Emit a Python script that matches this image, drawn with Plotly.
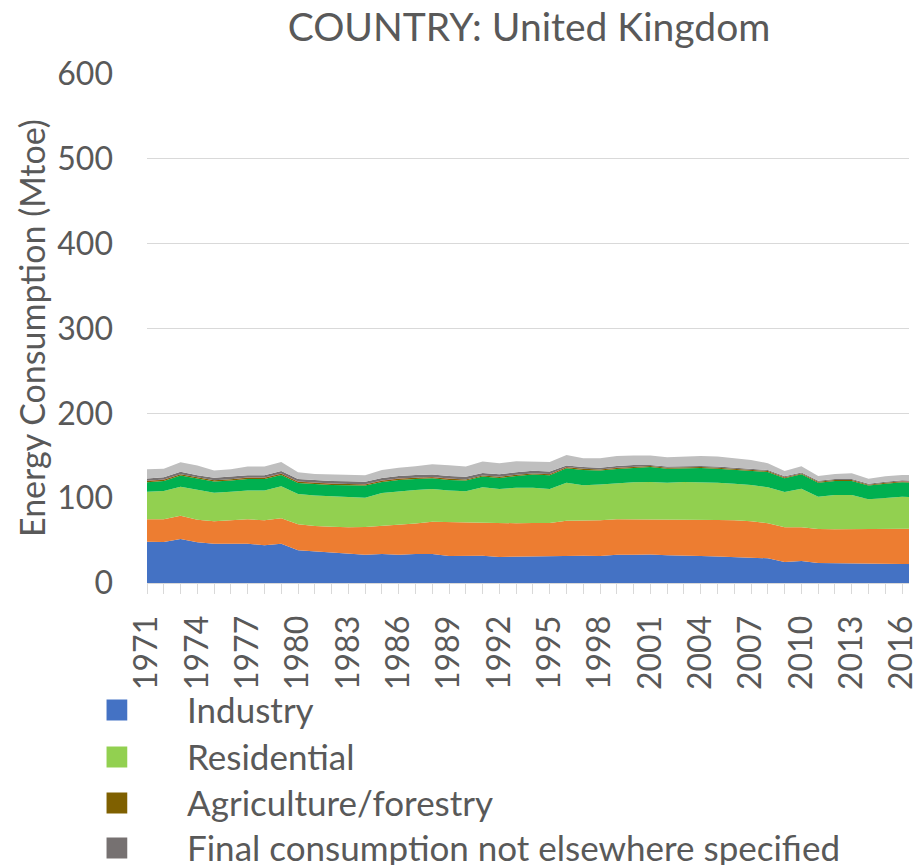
import plotly.graph_objects as go

years = list(range(1971, 2018))

industry = [48.7, 48.3, 51.9, 48.0, 46.4, 46.4, 46.4, 44.4, 46.4, 38.5,
            37.3, 36.2, 34.6, 33.4, 34.2, 33.4, 34.2, 34.2, 31.8, 31.8,
            32.2, 30.7, 31.1, 31.1, 31.4, 32.6, 32.2, 31.8, 33.4, 33.4,
            33.6, 32.6, 32.6, 31.8, 31.1, 30.7, 30.3, 29.1, 24.8, 25.9,
            23.6, 23.2, 23.2, 23.2, 22.8, 22.4, 22.3]
transport = [26.4, 26.8, 27.5, 26.7, 26.3, 27.5, 28.7, 29.5, 29.9, 30.7,
             29.9, 30.2, 31.0, 32.6, 33.0, 34.6, 35.8, 38.1, 40.1, 39.3,
             38.6, 39.3, 39.3, 39.7, 39.4, 40.9, 41.3, 42.1, 41.7, 41.7,
             41.5, 42.5, 42.5, 42.5, 43.2, 43.2, 42.4, 41.3, 40.8, 39.7,
             40.1, 40.1, 40.1, 40.1, 40.9, 41.7, 41.8]
residential = [32.6, 33.4, 34.2, 35.0, 33.8, 33.8, 33.8, 35.0, 37.7, 35.8,
               35.8, 35.8, 35.8, 34.6, 38.9, 40.1, 39.7, 38.5, 37.0, 37.0,
               42.0, 40.8, 42.0, 41.6, 40.0, 44.8, 41.7, 42.1, 42.4, 43.6,
               44.0, 43.2, 44.0, 44.8, 44.0, 43.2, 42.9, 42.4, 41.7, 45.6,
               38.1, 40.5, 40.5, 35.4, 36.9, 37.7, 37.0]
commercial = [11.0, 11.8, 13.0, 12.9, 13.0, 13.0, 13.7, 13.7, 13.4, 12.9,
              13.4, 13.4, 13.8, 14.2, 13.0, 13.4, 12.9, 12.6, 12.6, 12.6,
              12.6, 13.0, 13.8, 15.4, 16.2, 16.9, 18.1, 16.5, 16.9, 16.9,
              17.7, 16.5, 16.1, 16.5, 16.5, 16.5, 16.5, 18.1, 16.1, 16.9,
              16.5, 16.5, 16.5, 16.1, 16.5, 16.9, 16.9]
agriculture = [1.5] * 9 + [1.4] * 10 + [1.3] * 11 + [1.1] * 9 + [1.0] * 8
fishing = [0.2] * 19 + [0.1] * 28
not_elsewhere = [2.8] * 9 + [3.0] * 16 + [2.0] * 5 + [1.2] * 17
non_energy = [10.8, 10.0, 11.2, 11.3, 8.5, 8.8, 10.1, 10.1, 10.8, 8.0,
              7.5, 7.6, 7.2, 7.6, 9.6, 9.9, 10.4, 11.9, 12.7, 12.1,
              13.3, 12.9, 12.9, 10.9, 11.3, 12.3, 10.3, 11.1, 12.0, 11.2,
              11.0, 11.0, 11.8, 11.8, 11.8, 11.4, 10.6, 7.8, 6.3, 7.2,
              5.6, 5.9, 6.7, 5.9, 6.4, 6.4, 6.8]

series_names = ["Industry", "Transport", "Residential",
                "Commercial and public services", "Agriculture/forestry",
                "Fishing", "Final consumption not elsewhere specified",
                "Non-energy use"]
series_values = [industry, transport, residential, commercial, agriculture,
                 fishing, not_elsewhere, non_energy]
series_colors = ["#4472C4", "#ED7D31", "#92D050", "#00B050", "#7F6000",
                 "#C00000", "#767171", "#BFBFBF"]

tick_years = years[0:46:3]
tick_text = [str(y) for y in tick_years]

FONT = "Lato"
TEXT = "#595959"
GRID = "#D9D9D9"

fig = go.Figure()
for name, vals, col in zip(series_names, series_values, series_colors):
    fig.add_trace(go.Scatter(
        x=years, y=vals, name=name, mode="lines", stackgroup="one",
        line=dict(width=0, color=col), fillcolor=col, showlegend=False,
    ))

# plot area geometry (pixels)
W, H = 919, 865
L, R, T, B = 147, 0, 74, 282
pw = W - L - R
ph = H - T - B


def px_x(px):
    return (px - L) / pw


def px_y(py):
    return (H - B - py) / ph


# legend drawn as two columns; the first column sits in view
legend_rows_y = [710, 757, 803, 848]
for i, idx in enumerate(range(0, len(series_names), 2)):
    cy = legend_rows_y[i]
    fig.add_shape(type="rect", xref="paper", yref="paper",
                  x0=px_x(106), x1=px_x(127), y0=px_y(cy + 10.5), y1=px_y(cy - 10.5),
                  fillcolor=series_colors[idx], line=dict(width=0))
    fig.add_annotation(xref="paper", yref="paper", x=px_x(186), y=px_y(cy - 1),
                       xanchor="left", yanchor="middle", showarrow=False,
                       text=series_names[idx],
                       font=dict(family=FONT, size=35, color=TEXT))

# y-axis title
fig.add_annotation(xref="paper", yref="paper", x=px_x(30), y=0.5,
                   xanchor="center", yanchor="middle", showarrow=False,
                   textangle=-90, text="Energy Consumption (Mtoe)",
                   font=dict(family=FONT, size=34, color=TEXT))

fig.update_layout(
    width=W, height=H,
    margin=dict(l=L, r=R, t=T, b=B, pad=0),
    paper_bgcolor="white", plot_bgcolor="white",
    title=dict(text="COUNTRY: United Kingdom", x=529 / W, xref="container",
               xanchor="center", y=1 - 27 / H, yref="container",
               yanchor="middle",
               font=dict(family=FONT, size=39, color=TEXT)),
    font=dict(family=FONT, size=32, color=TEXT),
    showlegend=False,
)
fig.update_xaxes(
    range=[1971, 1971 + (W - L) / 17.0],
    tickmode="array", tickvals=tick_years, ticktext=tick_text,
    tickangle=-90, ticks="outside", ticklen=10, tickcolor=GRID,
    minor=dict(dtick=1, tick0=1971, ticks="outside", ticklen=10, tickcolor=GRID),
    showgrid=False, zeroline=False, showline=True, linecolor=GRID,
    ticklabelstandoff=9, ticklabeloverflow="allow",
    tickfont=dict(family=FONT, size=32, color=TEXT),
)
fig.update_yaxes(
    range=[0, 600], dtick=100, tick0=0,
    showgrid=True, gridcolor=GRID, gridwidth=1,
    zeroline=False, showline=False, ticks="",
    ticklabelstandoff=33,
    tickfont=dict(family=FONT, size=32, color=TEXT),
)

fig.write_html("out.html")
